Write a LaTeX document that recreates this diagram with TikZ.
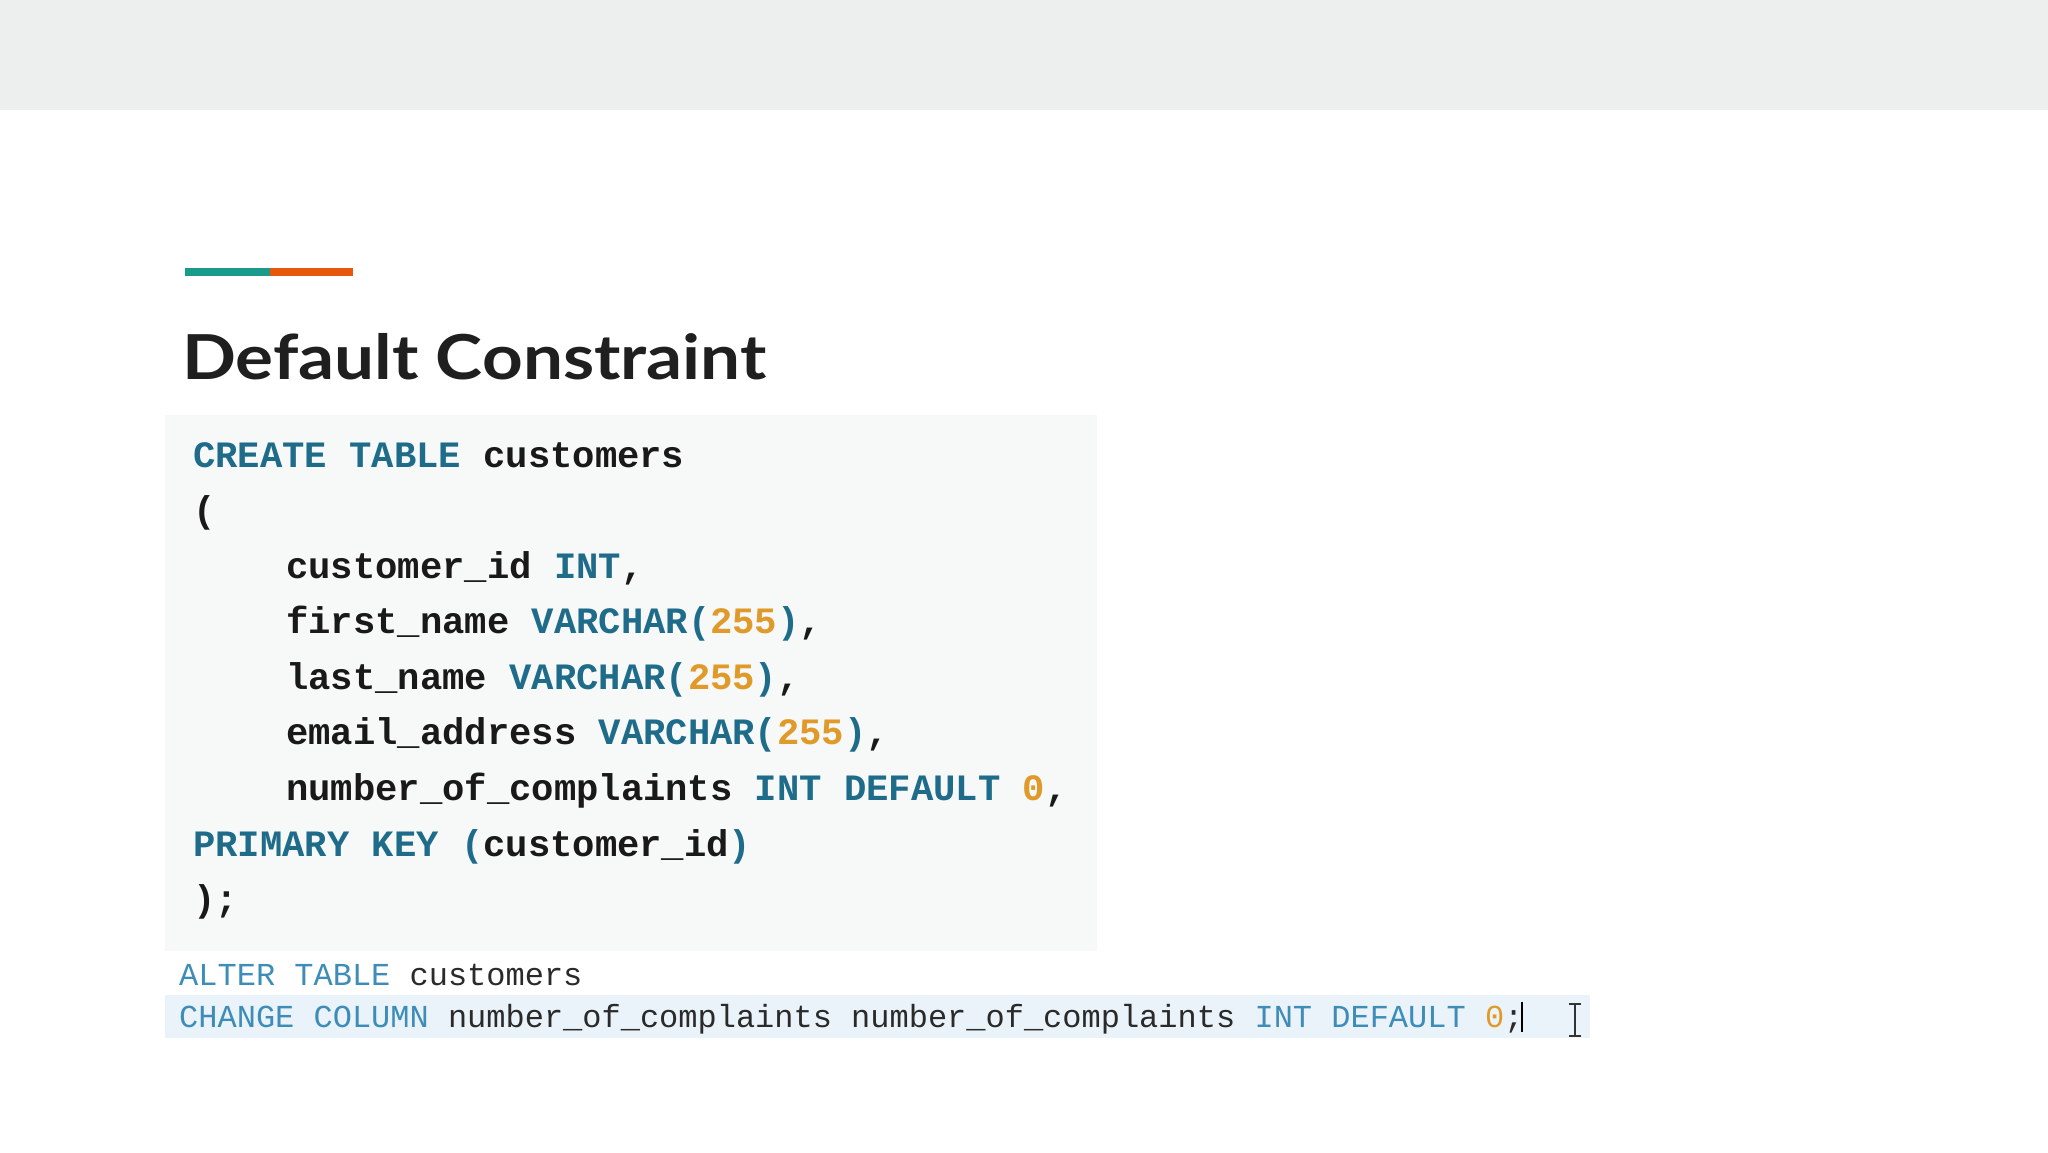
\documentclass[tikz,border=0pt]{standalone}
\usepackage{fontspec}
\usepackage{graphicx}
\setmainfont{Lato}
\setmonofont{Liberation Mono}
\definecolor{band}{HTML}{ECEFEE}
\definecolor{teal}{HTML}{1A9A8C}
\definecolor{orng}{HTML}{E8580C}
\definecolor{codebg}{HTML}{F7F8F8}
\definecolor{kw}{HTML}{1E6B8A}
\definecolor{num}{HTML}{E09A2A}
\definecolor{kwl}{HTML}{3D8DB8}
\definecolor{txl}{HTML}{2A2A2A}
\definecolor{hl}{HTML}{EAF3F9}
\newcommand{\K}[1]{\textcolor{kw}{#1}}
\newcommand{\N}[1]{\textcolor{num}{#1}}
\newcommand{\KL}[1]{\textcolor{kwl}{#1}}
\begin{document}
\begin{tikzpicture}[x=1pt,y=-1pt,
  code/.style={anchor=base west,inner sep=0pt,font=\ttfamily\bfseries\fontsize{37.2}{44}\selectfont,text=black!90},
  codel/.style={anchor=base west,inner sep=0pt,font=\ttfamily\fontsize{32}{38}\selectfont,text=txl}]
\useasboundingbox (0,0) rectangle (2048,1152);
\fill[white] (0,0) rectangle (2048,1152);
\fill[band] (0,0) rectangle (2048,110);
\fill[teal] (185,268) rectangle (270,276);
\fill[orng] (270,268) rectangle (353,276);
\node[anchor=base west,inner sep=0pt,font=\bfseries\fontsize{62}{70}\selectfont,text=black!88] (title) at (182,379) {\scalebox{1.145}[1]{Default Constraint}};
\fill[codebg] (165,415) rectangle (1097,951);
\fill[hl] (165,995) rectangle (1590,1038);
\node[code] (l1) at (193,467) {\K{CREATE TABLE} customers};
\node[code] (l2) at (193,522) {(};
\node[code] (l3) at (286,578) {customer\_id \K{INT},};
\node[code] (l4) at (286,633) {first\_name \K{VARCHAR(}\N{255}\K{)},};
\node[code] (l5) at (286,689) {last\_name \K{VARCHAR(}\N{255}\K{)},};
\node[code] (l6) at (286,744) {email\_address \K{VARCHAR(}\N{255}\K{)},};
\node[code] (l7) at (286,800) {number\_of\_complaints \K{INT DEFAULT} \N{0},};
\node[code] (l8) at (193,856) {\K{PRIMARY KEY} \K{(}customer\_id\K{)}};
\node[code] (l9) at (193,911) {);};
\node[codel] (m1) at (179,985) {\KL{ALTER TABLE} customers};
\node[codel] (m2) at (179,1027) {\KL{CHANGE COLUMN} number\_of\_complaints number\_of\_complaints \KL{INT DEFAULT} \N{0};};
\draw[black,line width=2pt] (1522,1002) -- (1522,1032);
\draw[black!80,line width=2pt] (1575,1004) -- (1575,1036) (1569,1004) -- (1581,1004) (1569,1036) -- (1581,1036);
\end{tikzpicture}
\end{document}
